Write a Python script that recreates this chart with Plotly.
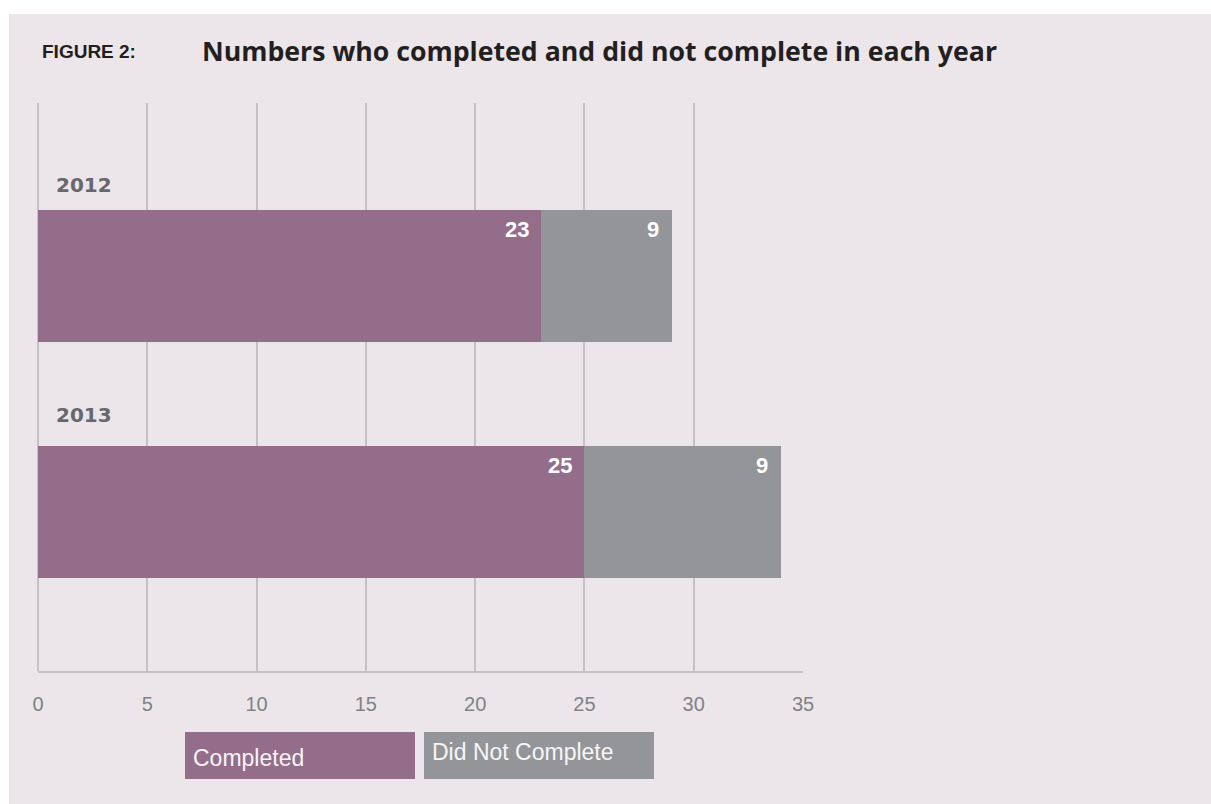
import plotly.graph_objects as go

# ---- data ----
years = ["2012", "2013"]
completed = [23, 25]
did_not_complete = [6, 9]          # bar lengths as drawn
completed_labels = ["23", "25"]
dnc_labels = ["9", "9"]            # labels as printed in the figure
series_names = ["Completed", "Did Not Complete"]
x_ticks = [0, 5, 10, 15, 20, 25, 30, 35]

PURPLE = "#946D8B"
GREY = "#939598"
BG = "#ECE6EA"
GRID = "#C4C1C4"

OFF = 0  # page body margin (removed via post_script)
W, H = 1211, 804
L, R, T, B = 38, 408, 103, 133
PW, PH = W - L - R, H - T - B


def px(x):  # screen pixel -> paper
    return (x - OFF - L) / PW


def py(y):
    return (H - B - (y - OFF)) / PH


ypos = list(range(len(years)))

fig = go.Figure()
fig.add_trace(go.Bar(y=ypos, x=completed, orientation="h", name=series_names[0],
                     marker=dict(color=PURPLE, line=dict(width=0)), width=0.559,
                     showlegend=False, hoverinfo="x"))
fig.add_trace(go.Bar(y=ypos, x=did_not_complete, orientation="h", name=series_names[1],
                     base=completed,
                     marker=dict(color=GREY, line=dict(width=0)), width=0.559,
                     showlegend=False, hoverinfo="x"))

annotations = []
year_shift = [91, 97]
for i, yr in enumerate(years):
    annotations.append(dict(x=0, y=i, xref="x", yref="y", text=yr, showarrow=False,
                            xanchor="left", yanchor="middle", xshift=16, yshift=year_shift[i],
                            font=dict(family="DejaVu Sans", size=20, color="#67686B", weight="bold")))
    annotations.append(dict(x=completed[i], y=i, xref="x", yref="y", text=completed_labels[i],
                            showarrow=False, xanchor="right", yanchor="middle", xshift=-10, yshift=46,
                            font=dict(family="Liberation Sans", size=22, color="white", weight="bold")))
    annotations.append(dict(x=completed[i] + did_not_complete[i], y=i, xref="x", yref="y",
                            text=dnc_labels[i], showarrow=False, xanchor="right", yanchor="middle",
                            xshift=-11, yshift=46,
                            font=dict(family="Liberation Sans", size=22, color="white", weight="bold")))

# titles
annotations.append(dict(x=px(40), y=py(52), xref="paper", yref="paper", text="FIGURE 2:",
                        showarrow=False, xanchor="left", yanchor="middle",
                        font=dict(family="Liberation Sans Narrow, Liberation Sans", size=19,
                                  color="#231F20", weight="bold")))
annotations.append(dict(x=px(200), y=py(50), xref="paper", yref="paper",
                        text="Numbers who completed and did not complete in each year",
                        showarrow=False, xanchor="left", yanchor="middle",
                        font=dict(family="Open Sans", size=26.7, color="#231F20", weight="bold")))

# custom legend + panel background
shapes = [
    dict(type="rect", xref="paper", yref="paper", x0=px(9), x1=px(1211 + 20), y0=py(804 + 10), y1=py(14),
         fillcolor=BG, line=dict(width=0), layer="below"),
    dict(type="rect", xref="paper", yref="paper", x0=px(185), x1=px(415), y0=py(779), y1=py(732),
         fillcolor=PURPLE, line=dict(width=0)),
    dict(type="rect", xref="paper", yref="paper", x0=px(424), x1=px(654), y0=py(779), y1=py(732),
         fillcolor=GREY, line=dict(width=0)),
]
annotations.append(dict(x=px(191), y=py(758), xref="paper", yref="paper", text=series_names[0],
                        showarrow=False, xanchor="left", yanchor="middle",
                        font=dict(family="Liberation Sans", size=23, color="#F7F5F7")))
annotations.append(dict(x=px(430), y=py(752), xref="paper", yref="paper", text=series_names[1],
                        showarrow=False, xanchor="left", yanchor="middle",
                        font=dict(family="Liberation Sans", size=23, color="#F7F5F7")))

fig.update_layout(
    width=W, height=H, autosize=False,
    margin=dict(l=L, r=R, t=T, b=B, pad=0),
    paper_bgcolor="white", plot_bgcolor="rgba(0,0,0,0)",
    barmode="overlay", bargap=0,
    shapes=shapes, annotations=annotations,
    xaxis=dict(range=[0, 35], tickvals=x_ticks, ticktext=[str(t) for t in x_ticks],
               showgrid=True, gridcolor=GRID, gridwidth=2,
               zeroline=True, zerolinecolor=GRID, zerolinewidth=2,
               showline=True, linecolor=GRID, linewidth=2,
               ticks="outside", ticklen=14, tickcolor="rgba(0,0,0,0)",
               tickfont=dict(family="Liberation Sans", size=20, color="#808285"),
               fixedrange=True),
    yaxis=dict(range=[1.674, -0.733], showgrid=False, zeroline=False, showline=False,
               showticklabels=False, fixedrange=True),
)

fig.write_html(
    "out.html",
    config={"displayModeBar": False},
    post_script=("document.body.style.margin='0';document.body.style.overflow='hidden';"
                 "document.documentElement.style.overflow='hidden';"),
)
